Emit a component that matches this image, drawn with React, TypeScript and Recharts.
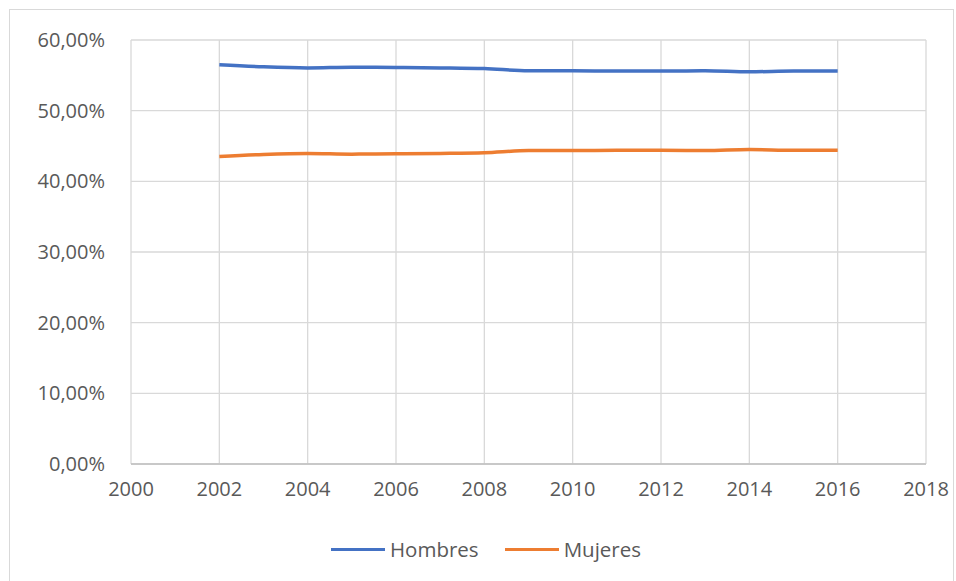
import {
  CartesianGrid,
  Legend,
  Line,
  LineChart,
  XAxis,
  YAxis,
} from "recharts";

const years = [2002, 2003, 2004, 2005, 2006, 2007, 2008, 2009, 2010, 2011, 2012, 2013, 2014, 2015, 2016];
const hombres = [56.5, 56.2, 56.05, 56.15, 56.1, 56.05, 55.95, 55.65, 55.65, 55.6, 55.6, 55.65, 55.5, 55.6, 55.6];
const mujeres = [43.5, 43.8, 43.95, 43.85, 43.9, 43.95, 44.05, 44.35, 44.35, 44.4, 44.4, 44.35, 44.5, 44.4, 44.4];
const xTicks = [2000, 2002, 2004, 2006, 2008, 2010, 2012, 2014, 2016, 2018];
const yTicks = [0, 10, 20, 30, 40, 50, 60];

const series = [
  { key: "Hombres", color: "#4472C4" },
  { key: "Mujeres", color: "#ED7D31" },
];

const data = years.map((year, i) => ({
  year,
  Hombres: hombres[i],
  Mujeres: mujeres[i],
}));

const FONT = "'Open Sans', Lato, sans-serif";
const pct = (v: number) => `${v.toFixed(2).replace(".", ",")}%`;

function LegendBox() {
  return (
    <div
      style={{
        height: 64,
        display: "flex",
        alignItems: "center",
        justifyContent: "center",
        fontFamily: FONT,
        fontSize: 20.5,
        color: "#595959",
        paddingLeft: 46,
      }}
    >
      {series.map((s, i) => (
        <div
          key={s.key}
          style={{ display: "flex", alignItems: "center", marginLeft: i ? 26 : 0 }}
        >
          <span style={{ display: "inline-block", width: 54, height: 3, background: s.color, marginRight: 5 }} />
          <span>{s.key}</span>
        </div>
      ))}
    </div>
  );
}

export default function App() {
  return (
    <div style={{ position: "absolute", left: 0, top: 0, width: 956, height: 581, background: "#fff", overflow: "hidden" }}>
      <div
        style={{
          position: "absolute",
          left: 9,
          top: 9,
          width: 945,
          height: 600,
          border: "1px solid #d9d9d9",
          boxSizing: "border-box",
        }}
      />
      <div style={{ position: "absolute", left: 0, top: 0 }}>
        <LineChart width={956} height={581} data={data} margin={{ top: 40, right: 30, left: 0, bottom: 0 }}>
          <CartesianGrid stroke="#d9d9d9" strokeWidth={1.3} />
          <XAxis
            dataKey="year"
            type="number"
            domain={[2000, 2018]}
            ticks={xTicks}
            height={53}
            tickLine={false}
            axisLine={{ stroke: "#bfbfbf", strokeWidth: 1.3 }}
            tickMargin={12}
            tick={{ fill: "#595959", fontSize: 20, fontFamily: FONT }}
          />
          <YAxis
            type="number"
            domain={[0, 60]}
            ticks={yTicks}
            width={131}
            tickLine={false}
            axisLine={false}
            tickMargin={20}
            tickFormatter={pct}
            tick={{ fill: "#595959", fontSize: 20, fontFamily: FONT }}
          />
          <Legend verticalAlign="bottom" height={64} content={() => <LegendBox />} />
          {series.map((s) => (
            <Line
              key={s.key}
              dataKey={s.key}
              type="monotone"
              stroke={s.color}
              strokeWidth={3.5}
              dot={false}
              isAnimationActive={false}
            />
          ))}
        </LineChart>
      </div>
    </div>
  );
}
